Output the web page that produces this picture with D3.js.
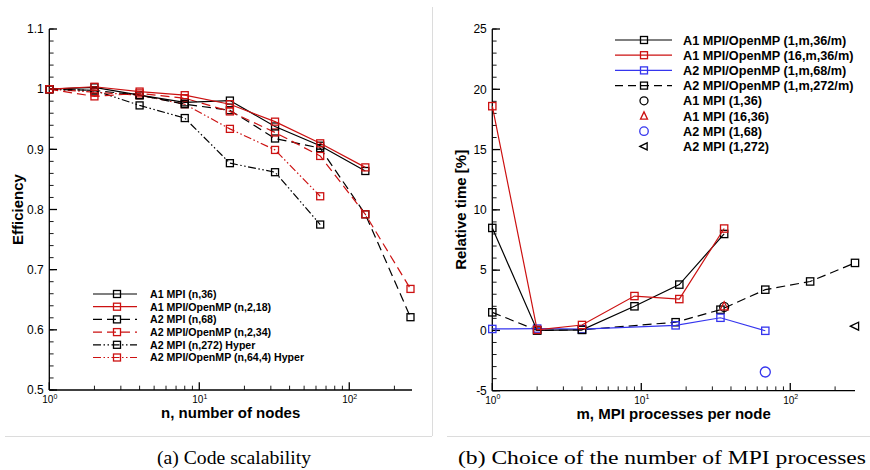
<!DOCTYPE html>
<html>
<head>
<meta charset="utf-8">
<script src="https://cdn.jsdelivr.net/npm/d3@7"></script>
<style>
  html, body { margin: 0; padding: 0; background: #fff; }
  svg { display: block; }
</style>
</head>
<body>
<svg id="chart" width="870" height="470"></svg>
<script>
// ---------------- DATA ----------------
// Panel (a): efficiency vs number of nodes
const nodesA1 = [1, 2, 4, 8, 16, 32, 64, 128];
const nodesA2 = [1, 2, 4, 8, 16, 32, 64, 128, 256];
const nodesHyper = [1, 2, 4, 8, 16, 32, 64];
const effA1MPI = [1.000, 1.003, 0.990, 0.978, 0.981, 0.938, 0.906, 0.864];
const effA1Hybrid = [1.000, 1.004, 0.996, 0.990, 0.975, 0.946, 0.910, 0.870];
const effA2MPI = [1.000, 0.998, 0.990, 0.975, 0.965, 0.918, 0.902, 0.792, 0.621];
const effA2Hybrid = [1.000, 0.988, 0.993, 0.985, 0.963, 0.928, 0.889, 0.792, 0.668];
const effA2MPIHyper = [1.000, 0.998, 0.973, 0.952, 0.877, 0.862, 0.775];
const effA2HybridHyper = [1.000, 0.995, 0.990, 0.975, 0.934, 0.899, 0.822];
const legendA = ["A1 MPI (n,36)", "A1 MPI/OpenMP (n,2,18)", "A2 MPI (n,68)",
  "A2 MPI/OpenMP (n,2,34)", "A2 MPI (n,272) Hyper", "A2 MPI/OpenMP (n,64,4) Hyper"];
const yTicksA = [0.5, 0.6, 0.7, 0.8, 0.9, 1, 1.1];

// Panel (b): relative time vs MPI processes per node
const mA1 = [1, 2, 4, 9, 18, 36];
const mA2_68 = [1, 2, 4, 17, 34, 68];
const mA2_272 = [1, 2, 4, 17, 34, 68, 136, 272];
const timeA1_1 = [8.5, 0.0, 0.05, 2.0, 3.8, 8.0];
const timeA1_16 = [18.6, 0.05, 0.45, 2.85, 2.6, 8.45];
const timeA2_68 = [0.12, 0.15, 0.1, 0.42, 1.05, -0.03];
const timeA2_272 = [1.5, 0.0, 0.05, 0.68, 1.72, 3.38, 4.06, 5.6];
const pureMPI_m = [36, 36, 68, 272];
const pureMPI_time = [1.95, 2.0, -3.45, 0.35];
const legendB = ["A1 MPI/OpenMP (1,m,36/m)", "A1 MPI/OpenMP (16,m,36/m)",
  "A2 MPI/OpenMP (1,m,68/m)", "A2 MPI/OpenMP (1,m,272/m)",
  "A1 MPI (1,36)", "A1 MPI (16,36)", "A2 MPI (1,68)", "A2 MPI (1,272)"];
const yTicksB = [-5, 0, 5, 10, 15, 20, 25];
const decadeLabels = ["0", "1", "2"];

// ---------------- STYLE ----------------
const RED = "#cc1111", BLUE = "#3535ee", BLACK = "#000";
const DASH = "9,5", DDOT = "8,2.5,1.5,2.5,1.5,2.5";
const SANS = "'Liberation Sans', Arial, Helvetica, sans-serif";
const SERIF = "'Liberation Serif', 'Times New Roman', serif";

const svg = d3.select("#chart");

// separators
svg.append("line").attr("x1", 432.5).attr("x2", 432.5).attr("y1", 7).attr("y2", 436)
  .attr("stroke", "#dcdcdc").attr("stroke-width", 1);
svg.append("line").attr("x1", 5).attr("x2", 432).attr("y1", 436.5).attr("y2", 436.5)
  .attr("stroke", "#dcdcdc").attr("stroke-width", 1);
svg.append("line").attr("x1", 447).attr("x2", 870).attr("y1", 436.5).attr("y2", 436.5)
  .attr("stroke", "#dcdcdc").attr("stroke-width", 1);

function drawAxes(g, x, y, yMajor, yMinorStep, yFmt, xTitle, yTitle, yTitleX) {
  const [x0, x1] = x.range();
  const [y0, y1] = y.range(); // y0 bottom
  const [d0, d1] = x.domain();
  // axis lines
  g.append("line").attr("x1", x0).attr("x2", x0).attr("y1", y0).attr("y2", y1)
    .attr("stroke", BLACK).attr("stroke-width", 1.3);
  g.append("line").attr("x1", x0).attr("x2", x1).attr("y1", y0).attr("y2", y0)
    .attr("stroke", BLACK).attr("stroke-width", 1.3);
  // y minor ticks
  const yd = y.domain();
  const nMinor = Math.round((yd[1] - yd[0]) / yMinorStep);
  for (let i = 0; i <= nMinor; i++) {
    const v = yd[0] + i * yMinorStep;
    g.append("line").attr("x1", x0).attr("x2", x0 + 4.3).attr("y1", y(v)).attr("y2", y(v))
      .attr("stroke", BLACK).attr("stroke-width", 0.9);
  }
  yMajor.forEach(v => {
    g.append("line").attr("x1", x0).attr("x2", x0 + 7.7).attr("y1", y(v)).attr("y2", y(v))
      .attr("stroke", BLACK).attr("stroke-width", 1.3);
    g.append("text").attr("x", x0 - 5.5).attr("y", y(v)).attr("dy", "0.36em")
      .attr("text-anchor", "end").attr("font-family", SANS).attr("font-size", 12)
      .text(yFmt(v));
  });
  // x ticks (log)
  for (let dec = 0; dec <= 2; dec++) {
    const base = Math.pow(10, dec);
    for (let k = 1; k <= 9; k++) {
      const v = base * k;
      if (v < d0 || v > d1) continue;
      const major = k === 1;
      g.append("line").attr("x1", x(v)).attr("x2", x(v)).attr("y1", y0)
        .attr("y2", y0 - (major ? 7.7 : 4.3))
        .attr("stroke", BLACK).attr("stroke-width", major ? 1.3 : 0.9);
      if (major) {
        const t = g.append("text").attr("x", x(v) + 0.5).attr("y", y0 + 13)
          .attr("text-anchor", "middle").attr("font-family", SANS).attr("font-size", 10);
        t.append("tspan").text("10");
        t.append("tspan").attr("font-size", 7).attr("dy", -4.5).text(decadeLabels[dec]);
      }
    }
  }
  // titles
  g.append("text").attr("x", (x0 + x1) / 2).attr("y", y0 + 28)
    .attr("text-anchor", "middle").attr("font-family", SANS).attr("font-size", 15)
    .attr("font-weight", "bold").text(xTitle);
  g.append("text").attr("transform", `translate(${yTitleX},${(y0 + y1) / 2}) rotate(-90)`)
    .attr("text-anchor", "middle").attr("font-family", SANS).attr("font-size", 15)
    .attr("font-weight", "bold").text(yTitle);
}

function marker(g, type, cx, cy, color, s) {
  if (type === "square") {
    g.append("rect").attr("x", cx - s / 2).attr("y", cy - s / 2).attr("width", s).attr("height", s)
      .attr("fill", "none").attr("stroke", color).attr("stroke-width", 1.3);
  } else if (type === "circle") {
    g.append("circle").attr("cx", cx).attr("cy", cy).attr("r", s / 2)
      .attr("fill", "none").attr("stroke", color).attr("stroke-width", 1.3);
  } else if (type === "tri-up") {
    const h = s * 0.9;
    g.append("path").attr("d", `M${cx},${cy - h / 2 - 1}L${cx + s / 2},${cy + h / 2}L${cx - s / 2},${cy + h / 2}Z`)
      .attr("fill", "none").attr("stroke", color).attr("stroke-width", 1.3);
  } else if (type === "tri-left") {
    const h = s * 0.9;
    g.append("path").attr("d", `M${cx - h / 2 - 1},${cy}L${cx + h / 2},${cy - s / 2}L${cx + h / 2},${cy + s / 2}Z`)
      .attr("fill", "none").attr("stroke", color).attr("stroke-width", 1.3);
  }
}

function series(g, x, y, xs, ys, color, dash, msize) {
  const line = d3.line().x(d => x(d[0])).y(d => y(d[1]));
  const pts = xs.map((v, i) => [v, ys[i]]);
  g.append("path").attr("d", line(pts)).attr("fill", "none").attr("stroke", color)
    .attr("stroke-width", 1.2).attr("stroke-dasharray", dash || null);
  pts.forEach(p => marker(g, "square", x(p[0]), y(p[1]), color, msize));
}

// ---------------- PANEL (a) ----------------
const gA = svg.append("g");
const xA = d3.scaleLog().domain([1, 262]).range([49.3, 412]);
const yA = d3.scaleLinear().domain([0.5, 1.1]).range([390, 29]);
drawAxes(gA, xA, yA, yTicksA, 0.02, v => (v === 1 ? "1" : d3.format(".1f")(v)),
  "n, number of nodes", "Efficiency", 22.5);

const seriesA = [
  { xs: nodesHyper, ys: effA2MPIHyper, c: BLACK, d: DDOT },
  { xs: nodesHyper, ys: effA2HybridHyper, c: RED, d: DDOT },
  { xs: nodesA2, ys: effA2MPI, c: BLACK, d: DASH },
  { xs: nodesA2, ys: effA2Hybrid, c: RED, d: DASH },
  { xs: nodesA1, ys: effA1MPI, c: BLACK, d: null },
  { xs: nodesA1, ys: effA1Hybrid, c: RED, d: null }
];
seriesA.forEach(s => series(gA, xA, yA, s.xs, s.ys, s.c, s.d, 7));

const legAStyle = [
  { c: BLACK, d: null }, { c: RED, d: null }, { c: BLACK, d: DASH },
  { c: RED, d: DASH }, { c: BLACK, d: DDOT }, { c: RED, d: DDOT }
];
legendA.forEach((lab, i) => {
  const yy = 294 + i * 12.7;
  gA.append("line").attr("x1", 93).attr("x2", 137).attr("y1", yy).attr("y2", yy)
    .attr("stroke", legAStyle[i].c).attr("stroke-width", 1.2)
    .attr("stroke-dasharray", legAStyle[i].d || null);
  marker(gA, "square", 117, yy, legAStyle[i].c, 7);
  gA.append("text").attr("x", 150).attr("y", yy).attr("dy", "0.36em")
    .attr("font-family", SANS).attr("font-size", 10.6).attr("font-weight", "bold").text(lab);
});

// ---------------- PANEL (b) ----------------
const gB = svg.append("g");
const xB = d3.scaleLog().domain([1, 272]).range([492.3, 855]);
const yB = d3.scaleLinear().domain([-5, 25]).range([390.7, 29]);
drawAxes(gB, xB, yB, yTicksB, 1, v => String(v),
  "m, MPI processes per node", "Relative time [%]", 466);

series(gB, xB, yB, mA2_272, timeA2_272, BLACK, DASH, 7.3);
series(gB, xB, yB, mA2_68, timeA2_68, BLUE, null, 7.3);
series(gB, xB, yB, mA1, timeA1_1, BLACK, null, 7.3);
series(gB, xB, yB, mA1, timeA1_16, RED, null, 7.3);

const pureStyle = [
  { t: "circle", c: BLACK, s: 9 }, { t: "tri-up", c: RED, s: 8 },
  { t: "circle", c: BLUE, s: 10 }, { t: "tri-left", c: BLACK, s: 8 }
];
pureMPI_m.forEach((m, i) => marker(gB, pureStyle[i].t, xB(m), yB(pureMPI_time[i]), pureStyle[i].c, pureStyle[i].s));

const legBStyle = [
  { c: BLACK, d: null, t: "square" }, { c: RED, d: null, t: "square" },
  { c: BLUE, d: null, t: "square" }, { c: BLACK, d: "8,5", t: "square" },
  { c: BLACK, t: "circle", s: 8 }, { c: RED, t: "tri-up", s: 7 },
  { c: BLUE, t: "circle", s: 8.5 }, { c: BLACK, t: "tri-left", s: 7 }
];
legendB.forEach((lab, i) => {
  const yy = 40 + i * 15.2;
  const st = legBStyle[i];
  if (st.t === "square") {
    gB.append("line").attr("x1", 615).attr("x2", 672).attr("y1", yy).attr("y2", yy)
      .attr("stroke", st.c).attr("stroke-width", 1.2).attr("stroke-dasharray", st.d || null);
    marker(gB, "square", 644, yy, st.c, 7);
  } else {
    marker(gB, st.t, 644, yy, st.c, st.s);
  }
  gB.append("text").attr("x", 683).attr("y", yy).attr("dy", "0.36em")
    .attr("font-family", SANS).attr("font-size", 12.7).attr("font-weight", "bold").text(lab);
});

// ---------------- CAPTIONS ----------------
svg.append("text").attr("x", 157).attr("y", 464).attr("font-family", SERIF)
  .attr("font-size", 19).attr("textLength", 154).attr("lengthAdjust", "spacingAndGlyphs")
  .text("(a) Code scalability");
svg.append("text").attr("x", 458).attr("y", 464).attr("font-family", SERIF)
  .attr("font-size", 19).attr("textLength", 408).attr("lengthAdjust", "spacingAndGlyphs")
  .text("(b) Choice of the number of MPI processes");
</script>
</body>
</html>
